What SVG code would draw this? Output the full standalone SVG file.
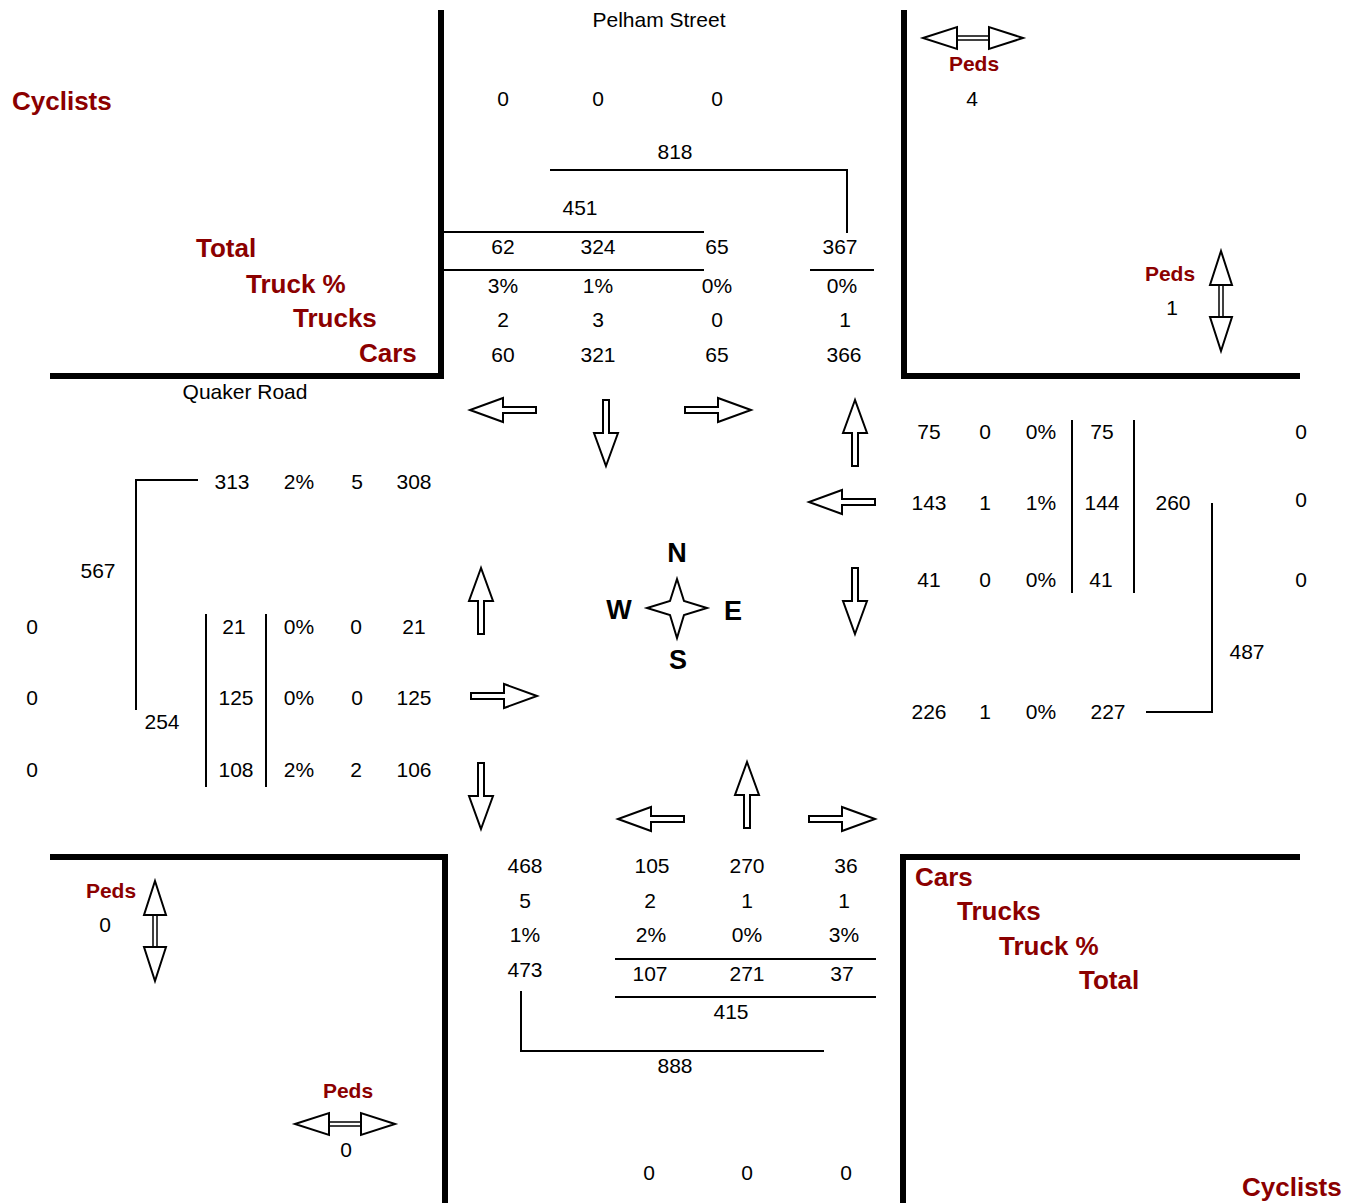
<svg xmlns="http://www.w3.org/2000/svg" xmlns:xlink="http://www.w3.org/1999/xlink" width="1359" height="1203" viewBox="0 0 1359 1203">
<style>
.n{font-family:"Liberation Sans",Arial,sans-serif;font-size:21px;fill:#000;text-anchor:middle}
.s{font-family:"Liberation Sans",Arial,sans-serif;font-size:21px;fill:#000}
.lb{font-family:"Liberation Sans",Arial,sans-serif;font-size:26px;font-weight:bold;fill:#8B0000}
.pd{font-family:"Liberation Sans",Arial,sans-serif;font-size:21px;font-weight:bold;fill:#8B0000;text-anchor:middle}
.cp{font-family:"Liberation Sans",Arial,sans-serif;font-size:27px;font-weight:bold;fill:#000;text-anchor:middle}
.thick{stroke:#000;stroke-width:6;fill:none}
.thin{stroke:#000;stroke-width:2;fill:none}
.arr{fill:#fff;stroke:#000;stroke-width:2;stroke-linejoin:miter}
</style>
<defs>
<path id="arr" d="M0,0 L-33,-12 L-33,-3 L-66,-3 L-66,3 L-33,3 L-33,12 Z"/>
<g id="dbl">
<rect x="-17" y="-2" width="34" height="4" fill="#fff" stroke="#000" stroke-width="1.5"/>
<path d="M-50,0 L-16,-11 L-16,11 Z" fill="#fff" stroke="#000" stroke-width="2"/>
<path d="M50,0 L16,-11 L16,11 Z" fill="#fff" stroke="#000" stroke-width="2"/>
</g>
</defs>
<rect width="1359" height="1203" fill="#fff"/>

<g id="curbs">
<path class="thick" d="M441,10 V379 M50,376 H444"/>
<path class="thick" d="M904,10 V379 M901,376 H1300"/>
<path class="thick" d="M50,857 H448 M445,854 V1203"/>
<path class="thick" d="M901,857 H1300 M903,854 V1203"/>
</g>

<g id="connectors">
<path class="thin" d="M550,170 H848 M847,169 V233"/>
<path class="thin" d="M444,232 H704"/>
<path class="thin" d="M444,270 H704 M810,270 H874"/>
<path class="thin" d="M136,480 H198 M136,479 V710"/>
<path class="thin" d="M206,614 V787 M266,614 V787"/>
<path class="thin" d="M1072,420 V593 M1134,420 V593"/>
<path class="thin" d="M1212,503 V713 M1146,712 H1212"/>
<path class="thin" d="M615,959 H876 M615,997 H876"/>
<path class="thin" d="M521,991 V1052 M521,1051 H824"/>
</g>

<g id="arrows">
<use xlink:href="#arr" class="arr" transform="translate(470,410) rotate(180)"/>
<use xlink:href="#arr" class="arr" transform="translate(606,466) rotate(90)"/>
<use xlink:href="#arr" class="arr" transform="translate(751,410)"/>
<use xlink:href="#arr" class="arr" transform="translate(855,400) rotate(-90)"/>
<use xlink:href="#arr" class="arr" transform="translate(809,502) rotate(180)"/>
<use xlink:href="#arr" class="arr" transform="translate(855,634) rotate(90)"/>
<use xlink:href="#arr" class="arr" transform="translate(481,568) rotate(-90)"/>
<use xlink:href="#arr" class="arr" transform="translate(537,696)"/>
<use xlink:href="#arr" class="arr" transform="translate(481,829) rotate(90)"/>
<use xlink:href="#arr" class="arr" transform="translate(618,819) rotate(180)"/>
<use xlink:href="#arr" class="arr" transform="translate(747,762) rotate(-90)"/>
<use xlink:href="#arr" class="arr" transform="translate(875,819)"/>
</g>

<g id="peds-ne">
<use xlink:href="#dbl" transform="translate(973,38)"/>
<text class="pd" x="974" y="71">Peds</text>
<text class="n" x="972" y="106">4</text>
</g>
<g id="peds-e">
<use xlink:href="#dbl" transform="translate(1221,301) rotate(90)"/>
<text class="pd" x="1170" y="281">Peds</text>
<text class="n" x="1172" y="315">1</text>
</g>
<g id="peds-sw">
<use xlink:href="#dbl" transform="translate(155,931) rotate(90)"/>
<text class="pd" x="111" y="898">Peds</text>
<text class="n" x="105" y="932">0</text>
</g>
<g id="peds-s">
<use xlink:href="#dbl" transform="translate(345,1124)"/>
<text class="pd" x="348" y="1098">Peds</text>
<text class="n" x="346" y="1157">0</text>
</g>

<g id="compass">
<polygon points="677,579 684,601 707,608 684,615 677,638 670,615 647,608 670,601" fill="#fff" stroke="#000" stroke-width="2"/>
<text class="cp" x="677" y="562">N</text>
<text class="cp" x="619" y="619">W</text>
<text class="cp" x="733" y="620">E</text>
<text class="cp" x="678" y="669">S</text>
</g>

<g id="legend-nw">
<text class="lb" x="12" y="110">Cyclists</text>
<text class="lb" x="196" y="257">Total</text>
<text class="lb" x="246" y="293">Truck %</text>
<text class="lb" x="293" y="327">Trucks</text>
<text class="lb" x="359" y="362">Cars</text>
</g>
<g id="legend-se">
<text class="lb" x="915" y="886">Cars</text>
<text class="lb" x="957" y="920">Trucks</text>
<text class="lb" x="999" y="955">Truck %</text>
<text class="lb" x="1079" y="989">Total</text>
<text class="lb" x="1242" y="1196">Cyclists</text>
</g>

<g id="street-names">
<text class="n" x="659" y="27">Pelham Street</text>
<text class="n" x="245" y="399">Quaker Road</text>
</g>

<g id="north">
<text class="n" x="503" y="106">0</text><text class="n" x="598" y="106">0</text><text class="n" x="717" y="106">0</text>
<text class="n" x="675" y="159">818</text>
<text class="n" x="580" y="215">451</text>
<text class="n" x="503" y="254">62</text><text class="n" x="598" y="254">324</text><text class="n" x="717" y="254">65</text><text class="n" x="840" y="254">367</text>
<text class="n" x="503" y="293">3%</text><text class="n" x="598" y="293">1%</text><text class="n" x="717" y="293">0%</text><text class="n" x="842" y="293">0%</text>
<text class="n" x="503" y="327">2</text><text class="n" x="598" y="327">3</text><text class="n" x="717" y="327">0</text><text class="n" x="845" y="327">1</text>
<text class="n" x="503" y="362">60</text><text class="n" x="598" y="362">321</text><text class="n" x="717" y="362">65</text><text class="n" x="844" y="362">366</text>
</g>

<g id="west">
<text class="n" x="232" y="489">313</text><text class="n" x="299" y="489">2%</text><text class="n" x="357" y="489">5</text><text class="n" x="414" y="489">308</text>
<text class="n" x="98" y="578">567</text>
<text class="n" x="32" y="634">0</text><text class="n" x="234" y="634">21</text><text class="n" x="299" y="634">0%</text><text class="n" x="356" y="634">0</text><text class="n" x="414" y="634">21</text>
<text class="n" x="32" y="705">0</text><text class="n" x="236" y="705">125</text><text class="n" x="299" y="705">0%</text><text class="n" x="357" y="705">0</text><text class="n" x="414" y="705">125</text>
<text class="n" x="162" y="729">254</text>
<text class="n" x="32" y="777">0</text><text class="n" x="236" y="777">108</text><text class="n" x="299" y="777">2%</text><text class="n" x="356" y="777">2</text><text class="n" x="414" y="777">106</text>
</g>

<g id="east">
<text class="n" x="929" y="439">75</text><text class="n" x="985" y="439">0</text><text class="n" x="1041" y="439">0%</text><text class="n" x="1102" y="439">75</text><text class="n" x="1301" y="439">0</text>
<text class="n" x="929" y="510">143</text><text class="n" x="985" y="510">1</text><text class="n" x="1041" y="510">1%</text><text class="n" x="1102" y="510">144</text><text class="n" x="1173" y="510">260</text><text class="n" x="1301" y="507">0</text>
<text class="n" x="929" y="587">41</text><text class="n" x="985" y="587">0</text><text class="n" x="1041" y="587">0%</text><text class="n" x="1101" y="587">41</text><text class="n" x="1301" y="587">0</text>
<text class="n" x="1247" y="659">487</text>
<text class="n" x="929" y="719">226</text><text class="n" x="985" y="719">1</text><text class="n" x="1041" y="719">0%</text><text class="n" x="1108" y="719">227</text>
</g>

<g id="south">
<text class="n" x="525" y="873">468</text><text class="n" x="652" y="873">105</text><text class="n" x="747" y="873">270</text><text class="n" x="846" y="873">36</text>
<text class="n" x="525" y="908">5</text><text class="n" x="650" y="908">2</text><text class="n" x="747" y="908">1</text><text class="n" x="844" y="908">1</text>
<text class="n" x="525" y="942">1%</text><text class="n" x="651" y="942">2%</text><text class="n" x="747" y="942">0%</text><text class="n" x="844" y="942">3%</text>
<text class="n" x="525" y="977">473</text><text class="n" x="650" y="981">107</text><text class="n" x="747" y="981">271</text><text class="n" x="842" y="981">37</text>
<text class="n" x="731" y="1019">415</text>
<text class="n" x="675" y="1073">888</text>
<text class="n" x="649" y="1180">0</text><text class="n" x="747" y="1180">0</text><text class="n" x="846" y="1180">0</text>
</g>
</svg>
